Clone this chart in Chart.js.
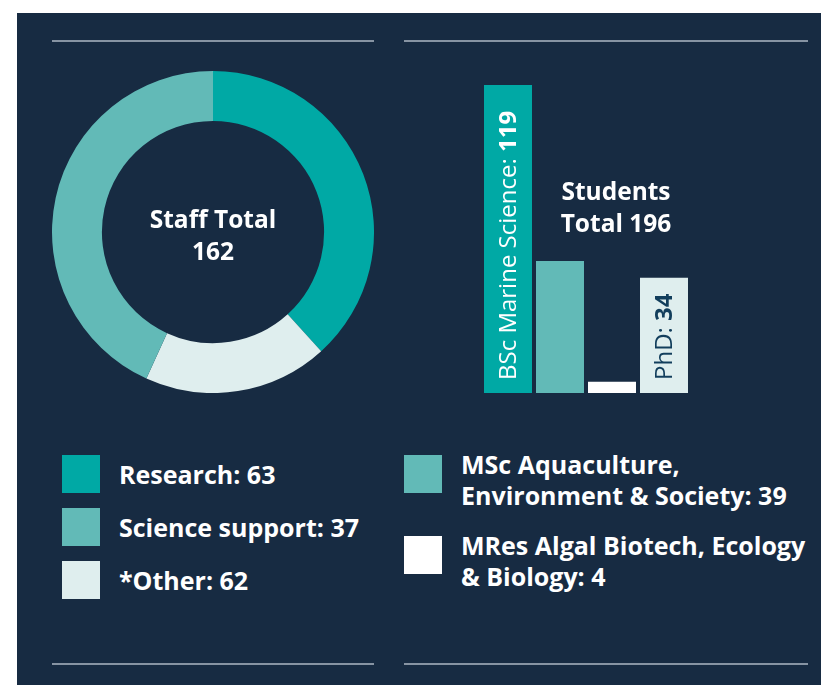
<!DOCTYPE html>
<html lang="en">
<head>
<meta charset="UTF-8">
<title>Staff and Students</title>
<script src="https://cdn.jsdelivr.net/npm/chart.js"></script>
<style>
    html, body { margin: 0; padding: 0; background: #ffffff; }
    body { width: 821px; height: 685px; position: relative; overflow: hidden; font-family: 'Open Sans', sans-serif; }
    .panel { position: absolute; left: 17px; top: 13px; width: 804px; height: 672px; background: #172b42; }
    .rule { position: absolute; height: 2px; background: #8794a3; }
    .box { position: absolute; }
    .centre { position: absolute; color: #fff; font-weight: 700; font-size: 24.5px; line-height: 32px; text-align: center; }
    .key { position: absolute; width: 38px; height: 38px; }
    .keytext { position: absolute; color: #fff; font-weight: 700; font-size: 25px; line-height: 31px; white-space: nowrap; }
</style>
</head>
<body>
<div class="panel"></div>
<div class="rule" style="left:52px; top:40px; width:322px;"></div>
<div class="rule" style="left:404px; top:40px; width:404px;"></div>
<div class="rule" style="left:52px; top:663px; width:322px;"></div>
<div class="rule" style="left:404px; top:663px; width:404px;"></div>

<div class="box" style="left:52px; top:71px; width:322px; height:322px;"><canvas id="staffChart"></canvas></div>
<div class="centre" style="left:113px; top:203px; width:200px;">Staff Total<br>162</div>

<div class="box" style="left:482px; top:85px; width:208px; height:308px;"><canvas id="studentChart"></canvas></div>
<div class="centre" style="left:536px; top:175px; width:160px;">Students<br>Total 196</div>

<div id="staffKey"></div>
<div id="studentKey"></div>

<script>
// staff (doughnut)
const staffCategories = ['Research', 'Science support', '*Other'];
const staffCounts = [63, 37, 62];
const staffColours = ['#00a9a5', '#62bab7', '#dfeeee'];
// ring as drawn, clockwise from the top: Research, *Other, Science support
const ringOrder = [0, 2, 1];
const ringSlices = [62, 30, 70];

// students (bars)
const studentCategories = ['BSc Marine Science', 'MSc Aquaculture,\nEnvironment & Society', 'MRes Algal Biotech, Ecology\n& Biology', 'PhD'];
const studentCounts = [119, 39, 4, 34];
const studentBars = [119, 51, 4.3, 44.5];
const studentColours = ['#00a9a5', '#62bab7', '#ffffff', '#dfeeee'];
const inBarLabels = ['BSc Marine Science: ', '', '', 'PhD: '];
const inBarColours = ['#ffffff', '', '', '#123e5c'];

const FONT = "'Open Sans', sans-serif";

new Chart(document.getElementById('staffChart'), {
    type: 'doughnut',
    data: {
        labels: ringOrder.map(i => staffCategories[i]),
        datasets: [{
            data: ringSlices,
            backgroundColor: ringOrder.map(i => staffColours[i]),
            borderWidth: 0
        }]
    },
    options: {
        responsive: true,
        maintainAspectRatio: false,
        animation: false,
        cutout: '69%',
        plugins: { legend: { display: false }, tooltip: { enabled: false } }
    }
});

// rotated text inside the bars
const barText = {
    id: 'barText',
    afterDatasetsDraw(chart) {
        const ctx = chart.ctx;
        chart.getDatasetMeta(0).data.forEach((bar, i) => {
            if (!inBarLabels[i]) return;
            ctx.save();
            ctx.translate(bar.x, bar.base - 13);
            ctx.rotate(-Math.PI / 2);
            ctx.fillStyle = inBarColours[i];
            ctx.textAlign = 'left';
            ctx.textBaseline = 'middle';
            ctx.font = '400 24px ' + FONT;
            ctx.fillText(inBarLabels[i], 0, 1);
            const w = ctx.measureText(inBarLabels[i]).width;
            ctx.font = '700 24px ' + FONT;
            ctx.fillText(String(studentCounts[i]), w, 1);
            ctx.restore();
        });
    }
};

new Chart(document.getElementById('studentChart'), {
    type: 'bar',
    data: {
        labels: studentCategories,
        datasets: [{
            data: studentBars,
            backgroundColor: studentColours,
            borderWidth: 0,
            categoryPercentage: 1,
            barPercentage: 0.923
        }]
    },
    options: {
        responsive: true,
        maintainAspectRatio: false,
        animation: false,
        layout: { padding: 0 },
        scales: {
            x: { display: false },
            y: { display: false, min: 0, max: 119 }
        },
        plugins: { legend: { display: false }, tooltip: { enabled: false } }
    },
    plugins: [barText]
});

// legends
function addKey(holder, x, tops, colours, texts) {
    texts.forEach((t, i) => {
        const sq = document.createElement('div');
        sq.className = 'key';
        sq.style.left = x + 'px';
        sq.style.top = tops[i] + 'px';
        sq.style.background = colours[i];
        holder.appendChild(sq);
        const tx = document.createElement('div');
        tx.className = 'keytext';
        tx.style.left = (x + 57) + 'px';
        tx.style.top = (tops[i] + (t.includes('\n') ? -6 : 4)) + 'px';
        tx.innerHTML = t.replace('\n', '<br>');
        holder.appendChild(tx);
    });
}
addKey(document.getElementById('staffKey'), 62, [455, 508, 561], staffColours,
    staffCategories.map((c, i) => c + ': ' + staffCounts[i]));
addKey(document.getElementById('studentKey'), 404, [455, 536], studentColours.slice(1, 3),
    studentCategories.slice(1, 3).map((c, i) => c + ': ' + studentCounts[i + 1]));
</script>
</body>
</html>
